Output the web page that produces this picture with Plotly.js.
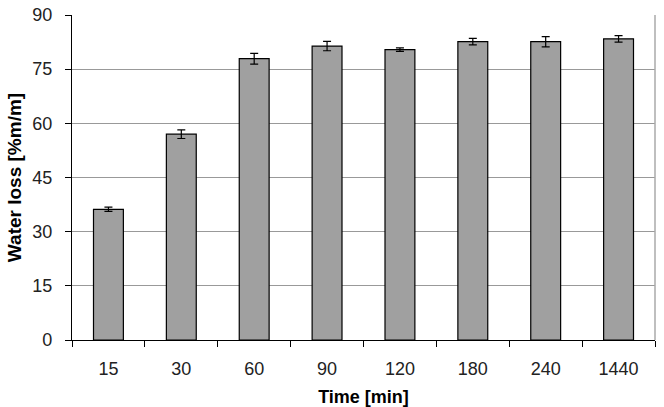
<!DOCTYPE html>
<html><head><meta charset="utf-8">
<script src="https://cdn.plot.ly/plotly-3.0.1.min.js"></script>
<style>html,body{margin:0;padding:0;background:#fff}#chart{width:664px;height:407px}</style>
</head><body><div id="chart"></div>
<script>
const categories = ["15","30","60","90","120","180","240","1440"];
const waterLoss = [36.2, 57.0, 77.9, 81.4, 80.4, 82.6, 82.6, 83.4];
const errors = [0.6, 1.2, 1.5, 1.3, 0.5, 0.9, 1.4, 0.9];
const yTicks = [0, 15, 30, 45, 60, 75, 90];

const trace = {
  type: 'bar', x: categories, y: waterLoss,
  marker: {color: '#a0a0a0', line: {color: '#000', width: 1.2}},
  error_y: {type: 'data', array: errors, visible: true, color: '#000', thickness: 1.2, width: 4},
  width: 0.41
};
const layout = {
  width: 664, height: 407,
  margin: {l: 72, r: 9, t: 15, b: 67},
  paper_bgcolor: '#fff', plot_bgcolor: '#fff',
  showlegend: false,
  font: {family: 'Liberation Sans, Arial, sans-serif', size: 18, color: '#222'},
  xaxis: {
    type: 'category', tickson: 'boundaries', ticks: 'outside', ticklen: 6, tickcolor: '#000',
    showline: true, linecolor: '#000', linewidth: 1.2, showgrid: false,
    tickfont: {size: 18, color: '#222'}, ticklabelstandoff: 12,
    title: {text: '<b>Time [min]</b>', font: {size: 18, color: '#000'}, standoff: 14}
  },
  yaxis: {
    range: [0, 90], tickvals: yTicks, ticks: 'outside', ticklen: 6, tickcolor: '#000',
    showline: true, linecolor: '#000', linewidth: 1.2,
    showgrid: true, gridcolor: '#999', gridwidth: 1, zeroline: false,
    tickfont: {size: 18, color: '#222'}, ticklabelstandoff: 9,
    title: {text: '<b>Water loss [%m/m]</b>', font: {size: 19, color: '#000'}, standoff: 5}
  },
  shapes: [{type: 'line', xref: 'paper', yref: 'paper', x0: 1, x1: 1, y0: 0, y1: 1, line: {color: '#aaa', width: 1.5}}]
};
Plotly.newPlot('chart', [trace], layout, {displayModeBar: false, staticPlot: true});
</script></body></html>
